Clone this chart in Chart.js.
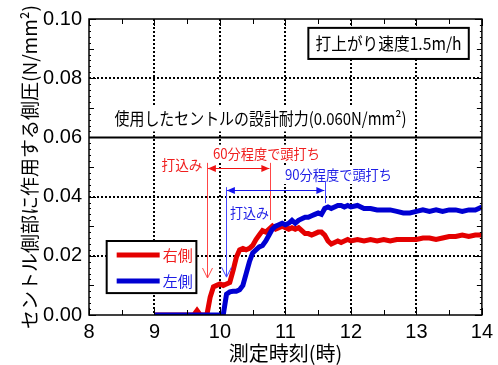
<!DOCTYPE html>
<html>
<head>
<meta charset="utf-8">
<script src="https://cdn.jsdelivr.net/npm/chart.js@4.4.1/dist/chart.umd.min.js"></script>
<style>
html, body { margin: 0; padding: 0; background: #fff; }
</style>
</head>
<body>
<canvas id="grafico" width="498" height="365"></canvas>
<script>
// tempos de medição (h)
const horas = [
  9.00, 9.05, 9.10, 9.15, 9.20, 9.25, 9.30, 9.35, 9.40, 9.45,
  9.50, 9.55, 9.60, 9.65, 9.70, 9.75, 9.80, 9.85, 9.90, 9.95,
  10.00, 10.05, 10.10, 10.15, 10.20, 10.25, 10.30, 10.35, 10.40, 10.45,
  10.50, 10.55, 10.60, 10.65, 10.70, 10.75, 10.80, 10.85, 10.90, 10.95,
  11.00, 11.05, 11.10, 11.15, 11.20, 11.25, 11.30, 11.35, 11.40, 11.45,
  11.50, 11.55, 11.60, 11.65, 11.70, 11.75, 11.80, 11.85, 11.90, 11.95,
  12.0, 12.1, 12.2, 12.3, 12.4, 12.5, 12.6, 12.7, 12.8, 12.9,
  13.0, 13.1, 13.2, 13.3, 13.4, 13.5, 13.6, 13.7, 13.8, 13.9, 14.0
];

// 右側 (N/mm2)
const ladoDireito = [
  0, 0, 0, 0, 0, 0, 0, 0, 0, 0,
  0, 0, 0, 0.0015, 0, 0, 0, 0.0060, 0.0095, 0.0100,
  0.0105, 0.0100, 0.0105, 0.0110, 0.0150, 0.0195, 0.0220, 0.0225, 0.0220, 0.0225,
  0.0235, 0.0255, 0.0270, 0.0285, 0.0280, 0.0290, 0.0300, 0.0290, 0.0295, 0.0300,
  0.0295, 0.0290, 0.0295, 0.0290, 0.0295, 0.0285, 0.0275, 0.0275, 0.0270, 0.0275,
  0.0280, 0.0280, 0.0270, 0.0250, 0.0240, 0.0245, 0.0250, 0.0245, 0.0250, 0.0255,
  0.0250, 0.0255, 0.0250, 0.0255, 0.0250, 0.0255, 0.0250, 0.0255, 0.0255, 0.0255,
  0.0255, 0.0260, 0.0260, 0.0255, 0.0260, 0.0265, 0.0265, 0.0270, 0.0265, 0.0270, 0.0270
];

// 左側 (N/mm2)
const ladoEsquerdo = [
  0, 0, 0, 0, 0, 0, 0, 0, 0, 0,
  0, 0, 0, 0, 0, 0, 0, 0, 0, 0,
  0, 0, 0.0070, 0.0078, 0.0080, 0.0080, 0.0085, 0.0100, 0.0140, 0.0180,
  0.0210, 0.0220, 0.0230, 0.0235, 0.0250, 0.0270, 0.0290, 0.0300, 0.0305, 0.0310,
  0.0305, 0.0310, 0.0320, 0.0310, 0.0320, 0.0325, 0.0330, 0.0330, 0.0335, 0.0340,
  0.0345, 0.0340, 0.0360, 0.0365, 0.0360, 0.0365, 0.0370, 0.0370, 0.0365, 0.0370,
  0.0365, 0.0370, 0.0360, 0.0360, 0.0355, 0.0355, 0.0355, 0.0350, 0.0345, 0.0345,
  0.0350, 0.0355, 0.0350, 0.0355, 0.0350, 0.0355, 0.0355, 0.0350, 0.0355, 0.0355, 0.0365
];

const rotulos = ['右側', '左側'];
const ticksY = [0, 0.02, 0.04, 0.06, 0.08, 0.10];

const vermelho = 'rgb(228, 0, 0)';
const azul = 'rgb(0, 0, 210)';
const txtVermelho = 'rgb(240, 30, 30)';
const txtAzul = 'rgb(30, 30, 230)';
const jp = '"Noto Sans CJK JP", sans-serif';

// anotações (em unidades dos eixos)
const setasVerticais = [
  { x: 9.80, y1: 0.0514, y2: 0.0125, cor: 'rgb(255, 70, 70)', ponta: true },
  { x: 10.77, y1: 0.0514, y2: 0.0321, cor: 'rgb(255, 70, 70)', ponta: false },
  { x: 10.09, y1: 0.0432, y2: 0.0128, cor: 'rgb(70, 70, 255)', ponta: true },
  { x: 11.61, y1: 0.0453, y2: 0.0378, cor: 'rgb(70, 70, 255)', ponta: false }
];
const setasHorizontais = [
  { x1: 9.80, x2: 10.77, y: 0.0497, cor: 'rgb(240, 20, 20)' },
  { x1: 10.09, x2: 11.61, y: 0.0422, cor: 'rgb(20, 20, 240)' }
];
const textos = [
  { s: '打込み', x: 9.42, y: 0.0507, tam: 14, cor: txtVermelho, larg: 41 },
  { s: '60分程度で頭打ち', x: 10.71, y: 0.0545, tam: 14, cor: txtVermelho, larg: 107 },
  { s: '90分程度で頭打ち', x: 11.81, y: 0.0473, tam: 14, cor: txtAzul, larg: 107 },
  { s: '打込み', x: 10.45, y: 0.0345, tam: 14, cor: txtAzul, larg: 39 }
];
const capacidade = 0.06;
const textoCapacidade = '使用したセントルの設計耐力(0.060N/mm²)';
const textoVelocidade = '打上がり速度1.5m/h';

function texto(ctx, s, x, y, tam, cor, larg, fundo) {
  ctx.font = tam + 'px ' + jp;
  ctx.textAlign = 'center';
  ctx.textBaseline = 'middle';
  let w = ctx.measureText(s).width;
  if (larg && w > larg) w = larg;
  if (fundo) {
    ctx.fillStyle = '#fff';
    ctx.fillRect(x - w / 2 - 1, y - tam / 2 - 2, w + 2, tam + 4);
  }
  ctx.fillStyle = cor;
  if (larg) ctx.fillText(s, x, y, larg);
  else ctx.fillText(s, x, y);
}

function pontaCheia(ctx, x, y, dir, cor) {
  ctx.fillStyle = cor;
  ctx.beginPath();
  ctx.moveTo(x, y);
  ctx.lineTo(x - dir * 8, y - 3.5);
  ctx.lineTo(x - dir * 8, y + 3.5);
  ctx.closePath();
  ctx.fill();
}

const anotacoes = {
  id: 'anotacoes',
  afterDatasetsDraw(chart) {
    const ctx = chart.ctx;
    const sx = chart.scales.x, sy = chart.scales.y;
    const a = chart.chartArea;
    ctx.save();

    // linha da capacidade de projeto
    const yc = sy.getPixelForValue(capacidade);
    ctx.strokeStyle = '#000';
    ctx.lineWidth = 2;
    ctx.beginPath();
    ctx.moveTo(a.left, yc);
    ctx.lineTo(a.right, yc);
    ctx.stroke();

    ctx.font = '17px ' + jp;
    ctx.textAlign = 'left';
    ctx.textBaseline = 'middle';
    const xt = sx.getPixelForValue(8.39), yt = sy.getPixelForValue(0.0664);
    ctx.fillStyle = '#fff';
    ctx.fillRect(xt - 2, yt - 12, 296, 25);
    ctx.fillStyle = '#000';
    ctx.fillText(textoCapacidade, xt, yt, 292);

    // caixa da velocidade
    const bx1 = sx.getPixelForValue(11.35), bx2 = sx.getPixelForValue(13.80);
    const by1 = sy.getPixelForValue(0.0970), by2 = sy.getPixelForValue(0.0865);
    ctx.fillStyle = '#fff';
    ctx.fillRect(bx1, by1, bx2 - bx1, by2 - by1);
    ctx.strokeStyle = '#000';
    ctx.lineWidth = 2;
    ctx.strokeRect(bx1, by1, bx2 - bx1, by2 - by1);
    texto(ctx, textoVelocidade, (bx1 + bx2) / 2, (by1 + by2) / 2, 17, '#000', 146, false);

    // textos das anotações
    textos.forEach(t => texto(ctx, t.s, sx.getPixelForValue(t.x), sy.getPixelForValue(t.y), t.tam, t.cor, t.larg, true));

    // setas verticais
    setasVerticais.forEach(s => {
      const x = Math.round(sx.getPixelForValue(s.x)) + 0.5;
      const y1 = sy.getPixelForValue(s.y1), y2 = sy.getPixelForValue(s.y2);
      ctx.strokeStyle = s.cor;
      ctx.lineWidth = 1;
      ctx.beginPath();
      ctx.moveTo(x, y1);
      ctx.lineTo(x, y2);
      if (s.ponta) {
        ctx.moveTo(x - 5, y2 - 10);
        ctx.lineTo(x, y2);
        ctx.lineTo(x + 5, y2 - 10);
      }
      ctx.stroke();
    });

    // setas horizontais com duas pontas
    setasHorizontais.forEach(s => {
      const x1 = sx.getPixelForValue(s.x1) + 1, x2 = sx.getPixelForValue(s.x2) - 1;
      const y = Math.round(sy.getPixelForValue(s.y)) + 0.5;
      ctx.strokeStyle = s.cor;
      ctx.lineWidth = 1;
      ctx.beginPath();
      ctx.moveTo(x1, y);
      ctx.lineTo(x2, y);
      ctx.stroke();
      pontaCheia(ctx, x1, y, -1, s.cor);
      pontaCheia(ctx, x2, y, 1, s.cor);
    });

    // legenda
    const lx1 = sx.getPixelForValue(8.27), lx2 = sx.getPixelForValue(9.64);
    const ly1 = sy.getPixelForValue(0.0250), ly2 = sy.getPixelForValue(0.0074);
    ctx.fillStyle = '#fff';
    ctx.fillRect(lx1, ly1, lx2 - lx1, ly2 - ly1);
    ctx.strokeStyle = '#000';
    ctx.lineWidth = 2;
    ctx.strokeRect(lx1, ly1, lx2 - lx1, ly2 - ly1);
    chart.data.datasets.forEach((ds, i) => {
      const yy = ly1 + 14 + i * 26;
      ctx.strokeStyle = ds.borderColor;
      ctx.lineWidth = 5;
      ctx.beginPath();
      ctx.moveTo(lx1 + 10, yy);
      ctx.lineTo(lx1 + 53, yy);
      ctx.stroke();
      ctx.font = '15px ' + jp;
      ctx.textAlign = 'left';
      ctx.textBaseline = 'middle';
      ctx.fillStyle = i === 0 ? txtVermelho : txtAzul;
      ctx.fillText(ds.label, lx1 + 56, yy);
    });

    // moldura e marcas para dentro
    ctx.strokeStyle = '#000';
    ctx.lineWidth = 1.5;
    ctx.strokeRect(a.left, a.top, a.right - a.left, a.bottom - a.top);
    ctx.lineWidth = 1;
    ctx.beginPath();
    for (let k = 0; k <= 50; k++) {
      const v = k * 0.002;
      const y = Math.round(sy.getPixelForValue(v)) + 0.5;
      const len = k % 10 === 0 ? 7 : (k % 5 === 0 ? 5 : 2);
      ctx.moveTo(a.left, y); ctx.lineTo(a.left + len, y);
      ctx.moveTo(a.right, y); ctx.lineTo(a.right - len, y);
    }
    for (let k = 0; k <= 12; k++) {
      const v = 8 + k * 0.5;
      const x = Math.round(sx.getPixelForValue(v)) + 0.5;
      const len = k % 2 === 0 ? 7 : 5;
      ctx.moveTo(x, a.bottom); ctx.lineTo(x, a.bottom - len);
      ctx.moveTo(x, a.top); ctx.lineTo(x, a.top + len);
    }
    ctx.stroke();
    ctx.restore();
  }
};

const transparente = 'rgba(0,0,0,0)';

new Chart(document.getElementById('grafico'), {
  type: 'line',
  data: {
    datasets: [
      {
        label: rotulos[0],
        data: horas.map((h, i) => ({ x: h, y: ladoDireito[i] })),
        borderColor: vermelho,
        borderWidth: 5,
        pointRadius: 0,
        tension: 0,
        order: 1
      },
      {
        label: rotulos[1],
        data: horas.map((h, i) => ({ x: h, y: ladoEsquerdo[i] })),
        borderColor: azul,
        borderWidth: 5,
        pointRadius: 0,
        tension: 0,
        order: 0
      }
    ]
  },
  options: {
    responsive: false,
    animation: false,
    layout: { padding: { top: 19, right: 13, left: 0, bottom: 0 } },
    plugins: { legend: { display: false }, tooltip: { enabled: false } },
    scales: {
      x: {
        type: 'linear',
        min: 8,
        max: 14,
        afterFit: s => { s.height = 50; },
        ticks: {
          stepSize: 1,
          padding: 5,
          color: '#000',
          font: { family: '"Liberation Sans", Arial, sans-serif', size: 20 }
        },
        grid: {
          drawTicks: false,
          lineWidth: 2,
          color: c => (c.tick && (c.tick.value <= 8 || c.tick.value >= 14)) ? transparente : '#000'
        },
        border: { display: false, dash: [2, 2] },
        title: {
          display: true,
          text: '測定時刻(時)',
          color: '#000',
          padding: { top: 0, bottom: 0 },
          font: { family: jp, size: 20, lineHeight: 1.15 }
        }
      },
      y: {
        min: 0,
        max: 0.1,
        afterFit: s => { s.width = 89; },
        afterBuildTicks: s => { s.ticks = ticksY.map(v => ({ value: v })); },
        ticks: {
          padding: 7,
          color: '#000',
          callback: v => v.toFixed(2),
          font: { family: '"Liberation Sans", Arial, sans-serif', size: 20 }
        },
        grid: {
          drawTicks: false,
          lineWidth: 2,
          color: c => {
            const v = c.tick ? c.tick.value : 0;
            return (v < 0.001 || v > 0.099 || Math.abs(v - 0.06) < 0.001) ? transparente : '#000';
          }
        },
        border: { display: false, dash: [2, 2] },
        title: {
          display: true,
          text: 'セントル側部に作用する側圧(N/mm²)',
          color: '#000',
          padding: { top: 18, bottom: 0 },
          font: { family: jp, size: 19, lineHeight: 1.2 }
        }
      }
    }
  },
  plugins: [anotacoes]
});
</script>
</body>
</html>
